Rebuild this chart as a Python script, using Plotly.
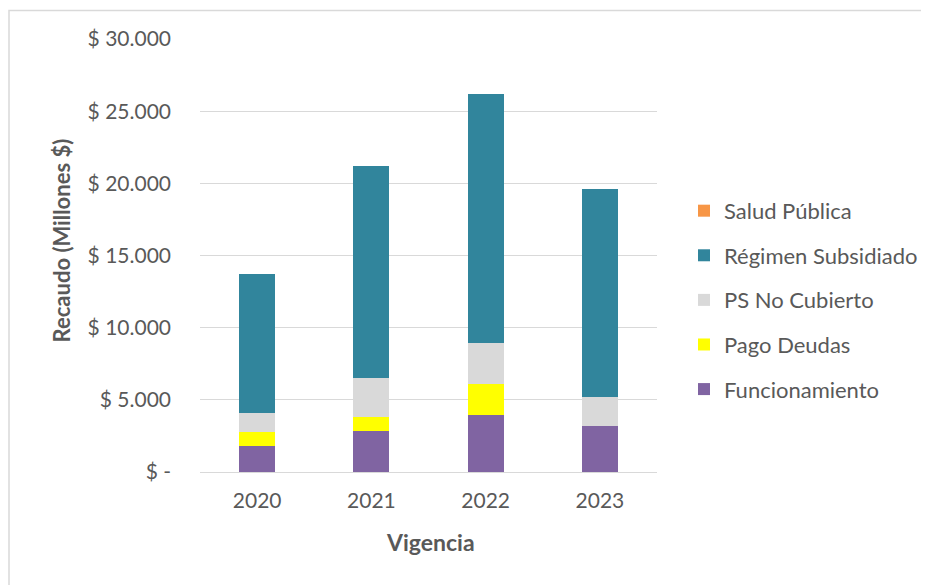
import plotly.graph_objects as go

years = ["2020", "2021", "2022", "2023"]
funcionamiento = [1830, 2840, 3950, 3220]
pago_deudas = [940, 970, 2180, 0]
ps_no_cubierto = [1350, 2730, 2810, 1980]
regimen_subsidiado = [9580, 14640, 17280, 14390]
salud_publica = [0, 0, 0, 0]

tick_vals = [0, 5000, 10000, 15000, 20000, 25000, 30000]
tick_text = ["$ -", "$ 5.000", "$ 10.000", "$ 15.000", "$ 20.000", "$ 25.000", "$ 30.000"]

# (name, values, colour, legend rank)
series = [
    ("Funcionamiento", funcionamiento, "#8064A2", 5),
    ("Pago Deudas", pago_deudas, "#FFFF00", 4),
    ("PS No Cubierto", ps_no_cubierto, "#D9D9D9", 3),
    ("Régimen Subsidiado", regimen_subsidiado, "#31859C", 2),
    ("Salud Pública", salud_publica, "#F79646", 1),
]

FONT = "Lato"
TXT = "#595959"

# plot area in viewport pixels (page has an 8px body margin)
PX0, PX1, PY0, PY1 = 200, 657, 38.5, 471.7
PW, PH = PX1 - PX0, PY1 - PY0


def px(x):
    return (x - PX0) / PW


def py(y):
    return (PY1 - y) / PH


fig = go.Figure()
for name, vals, color, rank in series:
    fig.add_trace(go.Bar(
        x=years, y=vals, name=name, legendgroup=name, legendrank=rank,
        marker=dict(color=color, line=dict(width=0)),
    ))

fig.update_layout(
    width=921, height=577,
    barmode="stack",
    bargap=0.685,
    paper_bgcolor="white",
    plot_bgcolor="white",
    margin=dict(l=PX0 - 8, r=921 - (PX1 - 8), t=PY0 - 8, b=577 - (PY1 - 8), autoexpand=False, pad=0),
    font=dict(family=FONT, size=21, color=TXT),
    legend=dict(
        x=px(684), y=py(299.5), xanchor="left", yanchor="middle",
        traceorder="grouped", tracegroupgap=13,
        font=dict(family=FONT, size=22, color=TXT),
        itemwidth=30,
    ),
    xaxis=dict(
        showgrid=False, showline=False, ticks="", ticklabelstandoff=14,
        tickfont=dict(family=FONT, size=21, color=TXT),
    ),
    yaxis=dict(
        range=[0, 30000], tickvals=tick_vals, ticktext=tick_text,
        showgrid=True, gridcolor="#D9D9D9", gridwidth=1,
        zeroline=True, zerolinecolor="#D9D9D9", zerolinewidth=1,
        showline=False, ticks="", ticklabelstandoff=28,
        tickfont=dict(family=FONT, size=21, color=TXT),
    ),
    annotations=[
        dict(text="<b>Vigencia</b>", xref="paper", yref="paper", x=px(430), y=py(542),
             xanchor="center", yanchor="middle", showarrow=False,
             font=dict(family=FONT, size=23, color=TXT)),
        dict(text="<b>Recaudo (Millones $)</b>", xref="paper", yref="paper", x=px(61), y=py(240),
             xanchor="center", yanchor="middle", showarrow=False, textangle=-90,
             font=dict(family=FONT, size=22, color=TXT)),
    ],
    shapes=[dict(
        type="rect", xref="paper", yref="paper",
        x0=px(9), x1=px(945), y0=py(600), y1=py(10),
        line=dict(color="#D9D9D9", width=1.5), fillcolor="rgba(0,0,0,0)", layer="below",
    )],
)

fig.write_html("out.html")
